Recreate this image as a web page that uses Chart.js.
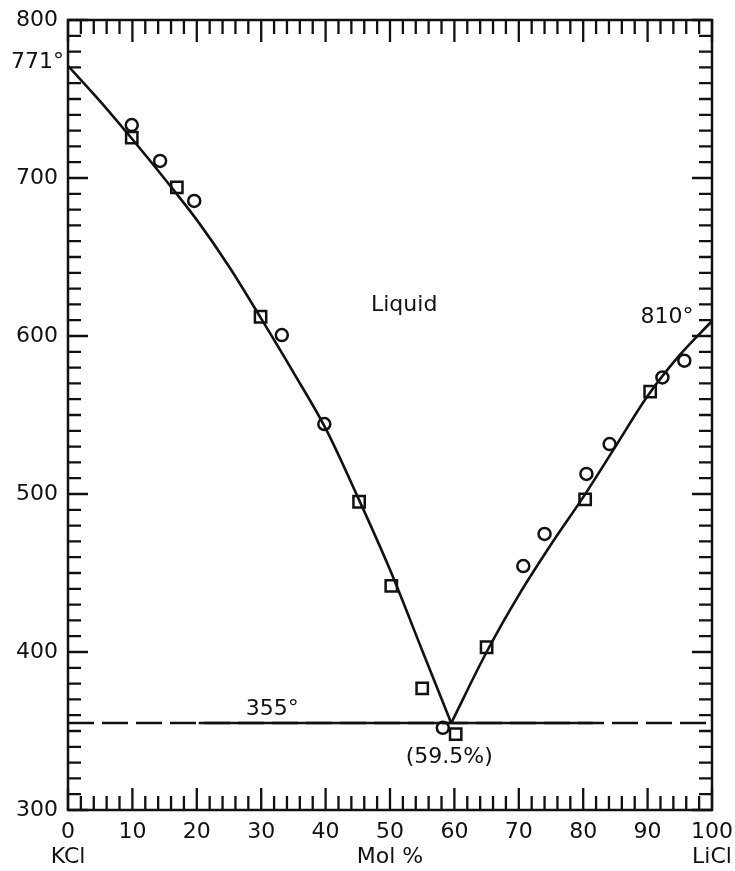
<!DOCTYPE html>
<html><head><meta charset="utf-8">
<script src="https://cdn.jsdelivr.net/npm/chart.js@4.4.1/dist/chart.umd.min.js"></script>
<style>html,body{margin:0;padding:0;background:#fff}</style>
</head><body>
<canvas id="c" width="735" height="871"></canvas>
<script>
// ---- data ----
const xTickValues = [0, 10, 20, 30, 40, 50, 60, 70, 80, 90, 100];
const yTickValues = [300, 400, 500, 600, 700, 800];

const leftLiquidusX = [0, 5, 10, 15, 20, 25, 30, 35, 40, 45, 50, 55, 59.5];
const leftLiquidusY = [771, 748.5, 724.5, 699.5, 673.5, 644, 611, 577, 541.5, 498, 452, 401, 355];

const rightLiquidusX = [59.5, 65, 70, 75, 80, 85, 90, 95, 100];
const rightLiquidusY = [355, 400, 436, 468, 498, 530, 562, 588, 609.5];

const eutecticTemp = 355;
const eutecticDashedX = [0, 100];
const eutecticSolidX = [20.3, 81.5];

const circleX = [9.9, 14.3, 19.6, 33.2, 39.8, 58.2, 70.7, 74.0, 80.5, 84.1, 92.3, 95.7];
const circleY = [733.5, 710.8, 685.5, 600.6, 544.3, 352, 454.4, 474.7, 512.7, 531.6, 573.8, 584.4];

const squareX = [9.9, 16.9, 29.9, 45.2, 50.2, 55.0, 60.2, 65.0, 80.3, 90.4];
const squareY = [725.5, 694.1, 612.2, 495.1, 441.8, 377, 348, 403, 496.6, 564.8];

const pts = (xs, ys) => xs.map((x, i) => ({x: x, y: ys[i]}));
const FONT = '"DejaVu Sans", sans-serif';
const INK = '#111';

const frameTicks = {
  id: 'frameTicks',
  afterDatasetsDraw(chart) {
    const {ctx, chartArea: a, scales: {x, y}} = chart;
    ctx.save();
    ctx.strokeStyle = INK;
    ctx.lineWidth = 2.3;
    ctx.beginPath();
    for (let v = 0; v <= 100; v += 2) {
      const px = x.getPixelForValue(v);
      const len = (v % 10 === 0) ? 22 : 14;
      ctx.moveTo(px, a.bottom); ctx.lineTo(px, a.bottom - len);
      ctx.moveTo(px, a.top); ctx.lineTo(px, a.top + len);
    }
    for (let v = 300; v <= 800; v += 10) {
      const py = y.getPixelForValue(v);
      const len = (v % 100 === 0) ? 20 : 13;
      ctx.moveTo(a.left, py); ctx.lineTo(a.left + len, py);
      ctx.moveTo(a.right, py); ctx.lineTo(a.right - len, py);
    }
    ctx.stroke();
    ctx.lineWidth = 2.5;
    ctx.strokeRect(a.left, a.top, a.right - a.left, a.bottom - a.top);

    ctx.fillStyle = INK;
    ctx.font = '22px ' + FONT;
    ctx.textBaseline = 'middle';
    const txt = (s, xv, yv, align) => {
      ctx.textAlign = align || 'center';
      ctx.fillText(s, x.getPixelForValue(xv), y.getPixelForValue(yv));
    };
    ctx.textAlign = 'right';
    ctx.fillText('771°', a.left - 4, y.getPixelForValue(773));
    txt('Liquid', 52.2, 619.6);
    txt('810°', 93, 612);
    txt('355°', 31.7, 363.5);
    txt('(59.5%)', 59.2, 333.5);
    ctx.textAlign = 'center';
    const by = a.bottom + 47;
    ctx.fillText('KCl', x.getPixelForValue(0), by);
    ctx.fillText('Mol %', x.getPixelForValue(50), by);
    ctx.fillText('LiCl', x.getPixelForValue(100), by);
    ctx.restore();
  }
};

new Chart(document.getElementById('c'), {
  type: 'scatter',
  data: {
    datasets: [
      {type: 'line', data: pts(eutecticDashedX, eutecticDashedX.map(() => eutecticTemp)),
       borderColor: INK, borderWidth: 2.5, borderDash: [26, 8], pointRadius: 0, showLine: true},
      {type: 'line', data: pts(eutecticSolidX, eutecticSolidX.map(() => eutecticTemp)),
       borderColor: INK, borderWidth: 2.5, pointRadius: 0, showLine: true},
      {type: 'line', data: pts(leftLiquidusX, leftLiquidusY), borderColor: INK, borderWidth: 2.6,
       pointRadius: 0, cubicInterpolationMode: 'monotone', showLine: true},
      {type: 'line', data: pts(rightLiquidusX, rightLiquidusY), borderColor: INK, borderWidth: 2.6,
       pointRadius: 0, cubicInterpolationMode: 'monotone', showLine: true},
      {data: pts(circleX, circleY), pointStyle: 'circle', pointRadius: 6, borderWidth: 2.5,
       borderColor: INK, backgroundColor: 'rgba(0,0,0,0)'},
      {data: pts(squareX, squareY), pointStyle: 'rect', pointRadius: 8, borderWidth: 2.5,
       borderColor: INK, backgroundColor: 'rgba(0,0,0,0)'}
    ]
  },
  options: {
    responsive: false,
    animation: false,
    devicePixelRatio: 1,
    layout: {padding: {top: 20, right: 23, left: 0, bottom: 0}},
    plugins: {legend: {display: false}, tooltip: {enabled: false}},
    scales: {
      x: {
        type: 'linear', min: 0, max: 100,
        grid: {display: false, drawTicks: false}, border: {display: false},
        ticks: {color: INK, font: {family: FONT, size: 22}, padding: 9, maxRotation: 0},
        afterBuildTicks: s => { s.ticks = xTickValues.map(v => ({value: v})); },
        afterFit: s => { s.height = 61; s.paddingLeft = 0; s.paddingRight = 0; }
      },
      y: {
        type: 'linear', min: 300, max: 800,
        grid: {display: false, drawTicks: false}, border: {display: false},
        ticks: {color: INK, font: {family: FONT, size: 22}, padding: 10},
        afterBuildTicks: s => { s.ticks = yTickValues.map(v => ({value: v})); },
        afterFit: s => { s.width = 68; s.paddingTop = 0; s.paddingBottom = 0; }
      }
    }
  },
  plugins: [frameTicks]
});
</script>
</body></html>
